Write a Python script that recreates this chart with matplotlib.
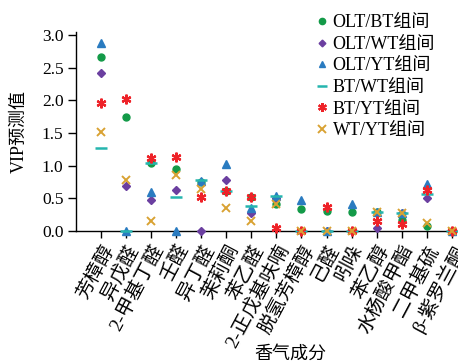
import matplotlib
matplotlib.use("Agg")
import matplotlib.pyplot as plt

plt.rcParams['font.family'] = ['Liberation Serif', 'Noto Sans CJK SC']

compounds = ['芳樟醇', '异戊醛', '2-甲基丁醛', '壬醛', '异丁醛', '茉莉酮', '苯乙醛',
             '2-正戊基呋喃', '脱氢芳樟醇', '己醛', '吲哚', '苯乙醇', '水杨酸甲酯',
             '二甲基硫', 'β-紫罗兰酮']

olt_bt = [2.66, 1.74, 1.04, 0.95, 0.75, 0.62, 0.52, 0.41, 0.33, 0.30, 0.29, 0.29, 0.17, 0.07, 0.0]
olt_wt = [2.42, 0.69, 0.47, 0.63, 0.0, 0.78, 0.27, 0.51, 0.0, 0.0, 0.0, 0.04, 0.27, 0.51, 0.0]
olt_yt = [2.87, 0.0, 0.60, 0.0, 0.76, 1.03, 0.35, 0.54, 0.47, 0.0, 0.41, 0.29, 0.27, 0.72, 0.0]
bt_wt = [1.27, 0.0, 1.04, 0.52, 0.78, 0.62, 0.39, 0.53, 0.0, 0.0, 0.0, 0.29, 0.28, 0.56, 0.0]
bt_yt = [1.96, 2.02, 1.11, 1.13, 0.52, 0.62, 0.52, 0.05, 0.0, 0.37, 0.0, 0.15, 0.10, 0.63, 0.0]
wt_yt = [1.52, 0.78, 0.15, 0.85, 0.64, 0.35, 0.15, 0.41, 0.0, 0.0, 0.0, 0.29, 0.28, 0.13, 0.0]

fig = plt.figure(figsize=(4.58, 3.63), dpi=100)
ax = fig.add_axes([0.166, 0.3636, 0.834, 0.549])

x = list(range(len(compounds)))
series = [
    (olt_bt, 'OLT/BT组间', 'o', '#139a48', 5, 1.0),
    (olt_wt, 'OLT/WT组间', 'D', '#6b3fa0', 3.8, 1.0),
    (olt_yt, 'OLT/YT组间', '^', '#2a7bc0', 5.5, 1.0),
    (bt_wt, 'BT/WT组间', '_', '#25b5ae', 8, 1.8),
    (bt_yt, 'BT/YT组间', (6, 2, 0), '#ee2228', 7, 1.6),
    (wt_yt, 'WT/YT组间', 'x', '#d9a233', 6, 1.4),
]
for vals, lab, mk, col, ms, mew in series:
    ax.plot(x, vals, linestyle='none', marker=mk, color=col, markersize=ms,
            markeredgewidth=mew, label=lab, clip_on=False, zorder=3)

ax.set_xlim(-1, 14.25)
ax.set_ylim(0, 3.05)
ax.set_yticks([0, 0.5, 1.0, 1.5, 2.0, 2.5, 3.0])
ax.set_yticklabels(['0.0', '0.5', '1.0', '1.5', '2.0', '2.5', '3.0'])
ax.set_xticks(x)
ax.set_xticklabels(compounds, rotation=62, ha='right', va='top',
                   rotation_mode='anchor', fontsize=14)
ax.tick_params(axis='y', labelsize=12.5, direction='out', length=6, width=1, pad=3)
ax.tick_params(axis='x', direction='out', length=5, width=1, pad=3)
ax.spines['top'].set_visible(False)
ax.spines['right'].set_visible(False)
for s in ['left', 'bottom']:
    ax.spines[s].set_linewidth(1)

ax.set_ylabel('VIP预测值', fontsize=13)
ax.yaxis.set_label_coords(-0.127, 0.5)
ax.set_xlabel('香气成分', fontsize=13)
ax.xaxis.set_label_coords(0.56, -0.575)

fig.legend(loc='upper left', bbox_to_anchor=(0.665, 0.995), frameon=False,
           fontsize=13, handlelength=0.5, handletextpad=0.35, labelspacing=0.25,
           borderpad=0.2, markerscale=0.9)

fig.savefig('out.png', dpi=100)
